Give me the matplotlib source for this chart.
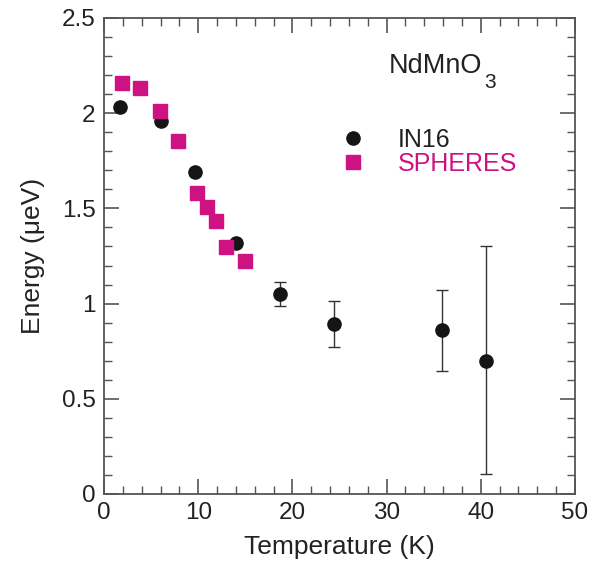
import matplotlib
matplotlib.use("Agg")
import matplotlib.pyplot as plt
from matplotlib.lines import Line2D
from matplotlib.ticker import MultipleLocator

plt.rcParams['font.family'] = ['Liberation Sans', 'DejaVu Sans']

# Data
in16_T = [1.7, 6.05, 9.65, 14.0, 18.7, 24.4, 35.85, 40.5]
in16_E = [2.03, 1.96, 1.69, 1.32, 1.049, 0.891, 0.861, 0.699]
in16_err_lo = [0, 0, 0, 0, 0.060, 0.121, 0.213, 0.596]
in16_err_hi = [0, 0, 0, 0, 0.063, 0.121, 0.212, 0.603]

sph_T = [1.94, 3.82, 5.94, 7.9, 9.9, 10.93, 11.93, 12.95, 14.94]
sph_E = [2.16, 2.134, 2.01, 1.852, 1.579, 1.507, 1.434, 1.297, 1.225]

black = '#151515'
magenta = '#cf1281'
spine = '#555555'
textc = '#222222'

fig = plt.figure(figsize=(6.0, 5.68), dpi=100)
ax = fig.add_axes([104/600, 1-494/568, 471/600, 476/568])

ax.errorbar(in16_T, in16_E, yerr=[in16_err_lo, in16_err_hi], fmt='o',
            color=black, ms=9.5, ecolor='#333333', elinewidth=1.0,
            capsize=4.5, capthick=1.0, zorder=3)
ax.plot(sph_T, sph_E, 's', color=magenta, ms=9.5, mec=magenta, zorder=4)

ax.set_xlim(0, 50)
ax.set_ylim(0, 2.5)
ax.xaxis.set_minor_locator(MultipleLocator(2))
ax.yaxis.set_minor_locator(MultipleLocator(0.1))
ax.set_xticks([0, 10, 20, 30, 40, 50])
ax.set_xticklabels(['0', '10', '20', '30', '40', '50'])
ax.set_yticks([0, 0.5, 1, 1.5, 2, 2.5])
ax.set_yticklabels(['0', '0.5', '1', '1.5', '2', '2.5'])

ax.tick_params(which='both', direction='in', top=True, right=True,
               color=spine, labelsize=17.5, labelcolor=textc)
ax.tick_params(which='major', length=11, width=1.2, pad=6)
ax.tick_params(which='minor', length=6, width=1.0)
for s in ax.spines.values():
    s.set_color(spine)
    s.set_linewidth(1.3)

ax.set_xlabel('Temperature (K)', fontsize=19, color=textc, labelpad=8)
ax.set_ylabel('Energy (\u03bceV)', fontsize=19, color=textc, labelpad=12)

t = ax.text(0.605, 0.885, 'NdMnO', transform=ax.transAxes, fontsize=19.5,
            color=textc, ha='left', va='baseline')
ax.annotate('3', xy=(1, 0), xycoords=t, xytext=(1.5, -7),
            textcoords='offset points', fontsize=15, color=textc,
            ha='left', va='baseline')

handles = [Line2D([], [], ls='none', marker='o', color=black, ms=9.5),
           Line2D([], [], ls='none', marker='s', color=magenta, ms=9.5)]
leg = ax.legend(handles, ['IN16', 'SPHERES'], loc='upper left',
                bbox_to_anchor=(0.48, 0.79), frameon=False, fontsize=18,
                handlelength=1.0, handletextpad=1.3, labelspacing=0.0,
                borderaxespad=0, labelcolor=[textc, magenta])

fig.savefig('out.png', dpi=100)
